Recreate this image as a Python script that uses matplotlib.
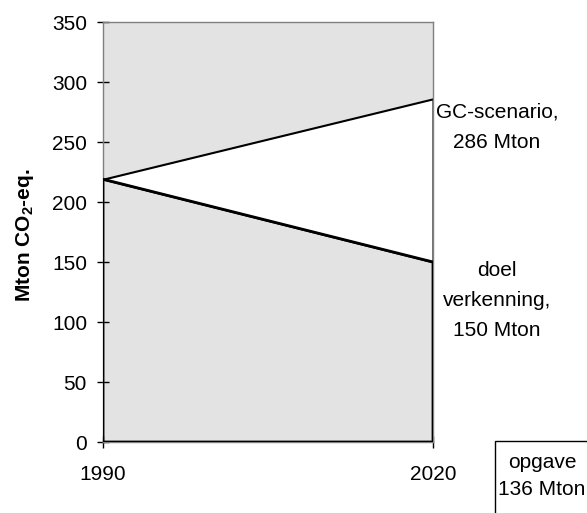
import matplotlib
matplotlib.use("Agg")
import matplotlib.pyplot as plt
from matplotlib.patches import Rectangle

plt.rcParams['font.family'] = ['Liberation Sans', 'DejaVu Sans']
plt.rcParams['mathtext.fontset'] = 'custom'
plt.rcParams['mathtext.rm'] = 'Liberation Sans'
plt.rcParams['mathtext.bf'] = 'Liberation Sans:bold'

# emissions in Mton CO2-eq.
years = [1990, 2020]
doel = [219, 150]       # doel verkenning
gc = [219, 286]         # GC-scenario
opgave = 136            # gap between the two in 2020

fs = 15

fig = plt.figure(figsize=(5.87, 5.13), dpi=100)
ax = fig.add_axes([103 / 587, 71 / 513, 330 / 587, 420 / 513])
ax.set_facecolor('#e3e3e3')

# lower band (grey) and the gap between scenario and target (white)
ax.fill_between(years, 0, doel, facecolor='none', edgecolor='black', lw=2, zorder=3)
ax.fill_between(years, doel, gc, facecolor='white', edgecolor='black', lw=1.5, zorder=2)

ax.set_xlim(1990, 2020)
ax.set_ylim(0, 350)
ax.set_xticks(years)
ax.set_yticks(range(0, 351, 50))
ax.tick_params(direction='inout', length=9, width=1, labelsize=fs, colors='black')
ax.tick_params(axis='y', pad=7)
ax.tick_params(axis='x', pad=12)
for s in ax.spines.values():
    s.set_color('#808080')
    s.set_linewidth(1)

ax.text(2025.8, 262, 'GC-scenario,\n%d Mton' % gc[1], ha='center', va='center',
        fontsize=fs, linespacing=1.75, clip_on=False)
ax.text(2025.8, 118, 'doel\nverkenning,\n%d Mton' % doel[1], ha='center', va='center',
        fontsize=fs, linespacing=1.75, clip_on=False)

fig.text(25 / 587, 1 - 235 / 513, r'Mton CO$_\mathbf{2}$-eq.', rotation=90, ha='center', va='center',
         fontsize=fs, fontweight='bold')

# box for the remaining task
fig.patches.append(Rectangle((495 / 587, -0.1), 0.3, 0.1 + 72 / 513, transform=fig.transFigure,
                             facecolor='white', edgecolor='black', lw=1))
fig.text(542 / 587, 1 - 476 / 513, 'opgave\n%d Mton' % opgave, ha='center', va='center',
         fontsize=fs, linespacing=1.5)

fig.savefig('out.png', dpi=100)
